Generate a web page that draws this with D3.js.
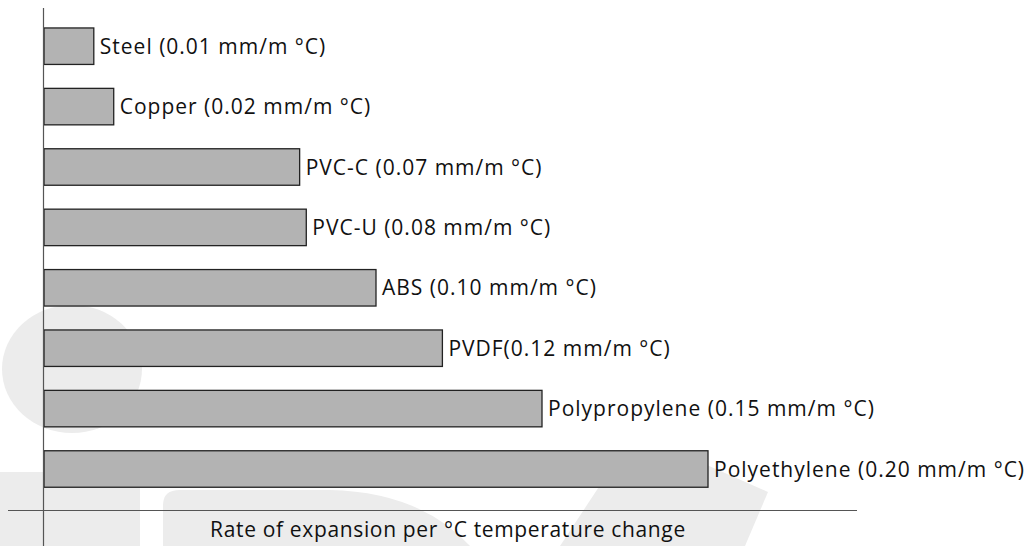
<!DOCTYPE html>
<html>
<head>
<meta charset="utf-8">
<script src="https://cdn.jsdelivr.net/npm/d3@7"></script>
<style>
  html, body { margin: 0; padding: 0; background: #fff; }
  svg { display: block; }
  text { font-family: "Open Sans", "Liberation Sans", sans-serif; fill: #111; }
</style>
</head>
<body>
<svg id="chart" width="1029" height="546"></svg>
<script>
// ---- data ----
const materials = ["Steel", "Copper", "PVC-C", "PVC-U", "ABS", "PVDF", "Polypropylene", "Polyethylene"];
const labels = [
  "Steel (0.01 mm/m °C)",
  "Copper (0.02 mm/m °C)",
  "PVC-C (0.07 mm/m °C)",
  "PVC-U (0.08 mm/m °C)",
  "ABS (0.10 mm/m °C)",
  "PVDF(0.12 mm/m °C)",
  "Polypropylene (0.15 mm/m °C)",
  "Polyethylene (0.20 mm/m °C)"
];
// bar lengths as drawn in the picture (mm/m °C)
const barValues = [0.015, 0.021, 0.077, 0.079, 0.100, 0.120, 0.150, 0.200];
const axisTitle = "Rate of expansion per °C temperature change";

const svg = d3.select("#chart");

// ---- faint watermark shapes in background ----
const wm = svg.append("g").attr("fill", "#ececec");
wm.append("ellipse").attr("cx", 72).attr("cy", 369).attr("rx", 70).attr("ry", 64);
wm.append("rect").attr("x", 0).attr("y", 472).attr("width", 140).attr("height", 74);
wm.append("path").attr("d", "M163,546 L163,505 Q163,490 180,490 L330,490 Q420,492 470,546 Z");
wm.append("path").attr("d", "M560,546 L610,470 Q640,455 700,462 L768,492 L745,546 Z");

// ---- scales ----
const x = d3.scaleLinear().domain([0, 0.2]).range([44, 708]);
const y = d3.scaleBand().domain(materials).range([16, 499.2]).paddingInner(0.396).paddingOuter(0.198);

// ---- bars ----
svg.append("g").selectAll("rect")
  .data(materials)
  .join("rect")
  .attr("x", x(0))
  .attr("y", d => y(d))
  .attr("width", (d, i) => x(barValues[i]) - x(0))
  .attr("height", y.bandwidth())
  .attr("fill", "#b3b3b3")
  .attr("stroke", "#222")
  .attr("stroke-width", 1.3);

// ---- labels ----
svg.append("g").selectAll("text")
  .data(materials)
  .join("text")
  .attr("x", (d, i) => x(barValues[i]) + 6)
  .attr("y", d => y(d) + y.bandwidth() / 2)
  .attr("dy", "0.36em")
  .attr("font-size", 21)
  .attr("letter-spacing", 1)
  .text((d, i) => labels[i]);

// ---- axis lines ----
svg.append("line")
  .attr("x1", 43.5).attr("x2", 43.5).attr("y1", 8).attr("y2", 546)
  .attr("stroke", "#555").attr("stroke-width", 1.2);
svg.append("line")
  .attr("x1", 8).attr("x2", 857).attr("y1", 510.5).attr("y2", 510.5)
  .attr("stroke", "#555").attr("stroke-width", 1.2);

svg.append("text")
  .attr("x", 448).attr("y", 537)
  .attr("text-anchor", "middle")
  .attr("font-size", 21)
  .attr("letter-spacing", 0.65)
  .text(axisTitle);
</script>
</body>
</html>
